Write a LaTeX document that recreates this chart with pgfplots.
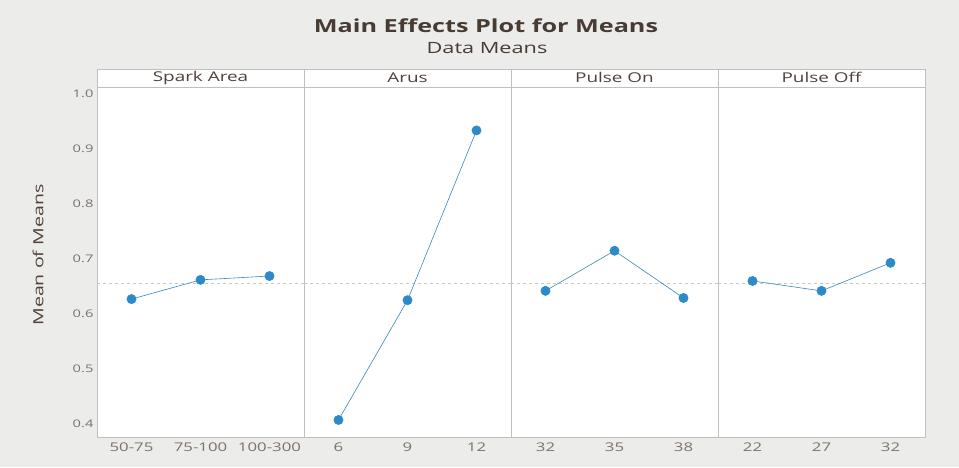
\documentclass[border=0pt]{standalone}
\usepackage{pgfplots}
\pgfplotsset{compat=1.18}
\usepgfplotslibrary{groupplots}
\usetikzlibrary{backgrounds}
\usepackage{fontspec}
\setmainfont{Open Sans}[FakeStretch=1.4]
\definecolor{txt}{RGB}{80,66,58}
\definecolor{pt}{RGB}{44,138,200}
\definecolor{bg}{RGB}{236,236,234}
\begin{document}
\begin{tikzpicture}[show background rectangle, inner frame sep=0pt,
  background rectangle/.style={fill=bg}]
\pgfplotsset{
  panel/.style={
    scale only axis, width=207pt, height=350pt,
    xmin=-0.5, xmax=2.5, ymin=0.376, ymax=1.013,
    xtick={0,1,2},
    axis line style={black!25},
    axis background/.style={fill=white},
    tick style={draw=none},
    xticklabel style={font=\fontsize{12}{13}\selectfont, text=txt!75, yshift=-2pt},
    yticklabel style={font=\fontsize{10.5}{12}\selectfont, text=txt!75,
      /pgf/number format/fixed, /pgf/number format/precision=1, /pgf/number format/fixed zerofill},
    /pgf/number format/assume math mode=true,
    ytick={0.4,0.5,0.6,0.7,0.8,0.9,1.0},
    title style={at={(0.5,1)}, anchor=south, yshift=-6pt, draw=black!25, fill=white,
      minimum width=207pt, minimum height=18pt, inner sep=0pt,
      font=\fontsize{13.5}{14}\selectfont, text=txt},
    clip=false,
  },
  ser/.style={color=pt!85!gray, line width=0.6pt, mark=*, mark size=4.6pt, mark options={fill=pt, draw=pt}},
  meanl/.style={dashed, black!22, line width=0.5pt, forget plot},
}
\begin{groupplot}[group style={group size=4 by 1, horizontal sep=0pt, yticklabels at=edge left}, panel]
\nextgroupplot[title={Spark Area}, xticklabels={50-75,75-100,100-300},
  ylabel={Mean of Means}, ylabel style={at={(rel axis cs:0,0.52)}, anchor=center, yshift=59pt, font=\fontsize{14}{15}\selectfont, text=txt}]
\addplot[meanl] coordinates {(-0.5,0.655) (2.5,0.655)};
\addplot[ser] coordinates {(0,0.627) (1,0.662) (2,0.669)};
\nextgroupplot[title={Arus}, xticklabels={6,9,12}, yticklabels={}]
\addplot[meanl] coordinates {(-0.5,0.655) (2.5,0.655)};
\addplot[ser] coordinates {(0,0.407) (1,0.625) (2,0.934)};
\nextgroupplot[title={Pulse On}, xticklabels={32,35,38}, yticklabels={}]
\addplot[meanl] coordinates {(-0.5,0.655) (2.5,0.655)};
\addplot[ser] coordinates {(0,0.642) (1,0.715) (2,0.629)};
\nextgroupplot[title={Pulse Off}, xticklabels={22,27,32}, yticklabels={}]
\addplot[meanl] coordinates {(-0.5,0.655) (2.5,0.655)};
\addplot[ser] coordinates {(0,0.660) (1,0.642) (2,0.693)};
\end{groupplot}
\path (group c1r1.south west) ++(-97pt,-30pt) coordinate (bl);
\path (group c4r1.north east) ++(34pt,87pt) coordinate (tr);
\path (bl) rectangle (tr);
\node[font=\fontsize{18}{19}\selectfont\bfseries, text=txt!90!black] at ([xshift=389pt,yshift=61pt]group c1r1.north west) {Main Effects Plot for Means};
\node[font=\fontsize{15.5}{16}\selectfont, text=txt!90!black] at ([xshift=390pt,yshift=39pt]group c1r1.north west) {Data Means};
\end{tikzpicture}
\end{document}
